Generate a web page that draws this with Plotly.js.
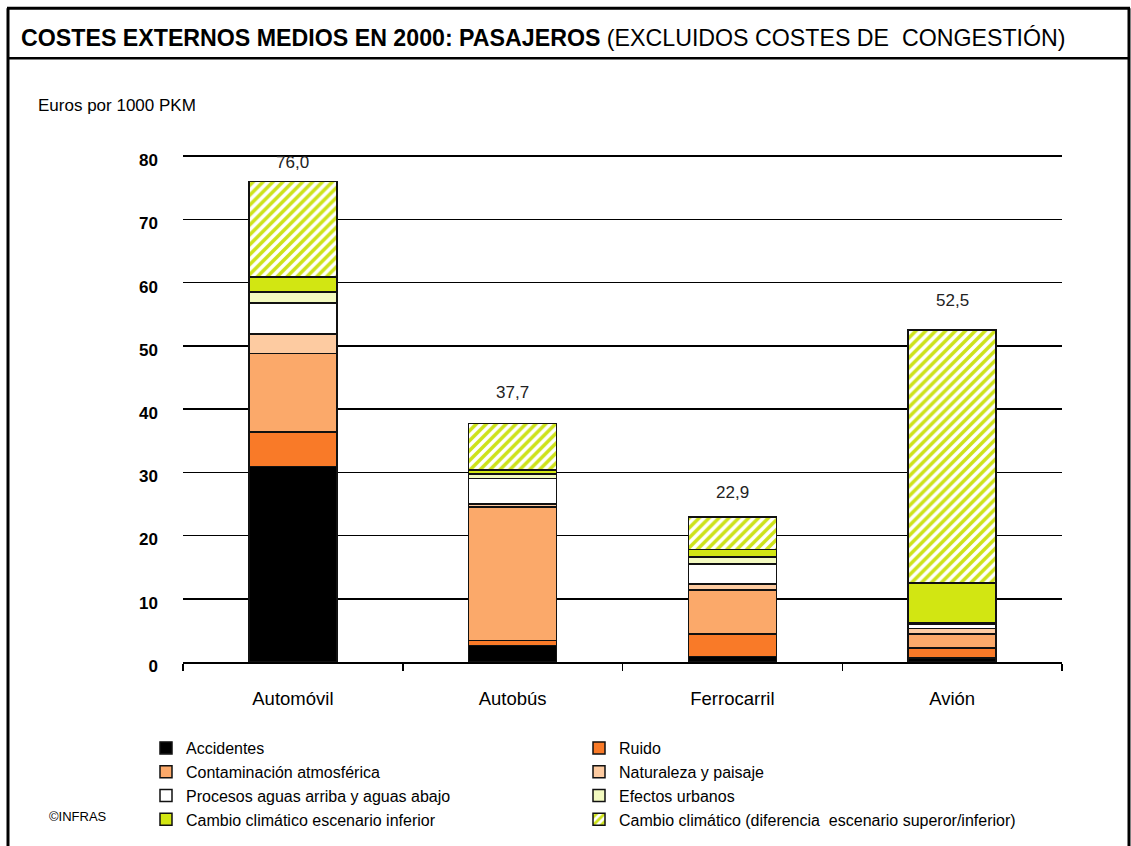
<!DOCTYPE html>
<html>
<head>
<meta charset="utf-8">
<script src="https://cdn.plot.ly/plotly-3.0.1.min.js"></script>
<style>html,body{margin:0;padding:0;background:#fff;overflow:hidden;}#chart{width:1131px;height:846px;}</style>
</head>
<body>
<div id="chart"></div>
<script>
// ---- data ----
const categories = ["Automóvil", "Autobús", "Ferrocarril", "Avión"];
const accidentes = [30.9, 2.6, 0.9, 0.6];
const ruido = [5.5, 0.8, 3.5, 1.6];
const contaminacion = [12.4, 21.1, 7.0, 2.2];
const naturaleza = [3.1, 0.5, 0.9, 0.9];
const procesos = [4.9, 4.0, 3.2, 0.7];
const efectosUrbanos = [1.7, 0.7, 1.1, 0.2];
const cambioInferior = [2.4, 0.7, 1.2, 6.3];
const cambioDiferencia = [15.1, 7.3, 5.1, 40.0];
const totals = [76.0, 37.7, 22.9, 52.5];
const yTicks = [0, 10, 20, 30, 40, 50, 60, 70, 80];

const seriesNames = [
  "Accidentes", "Ruido", "Contaminación atmosférica", "Naturaleza y paisaje",
  "Procesos aguas arriba y aguas abajo", "Efectos urbanos",
  "Cambio climático escenario inferior",
  "Cambio climático (diferencia  escenario superor/inferior)"
];
const seriesValues = [accidentes, ruido, contaminacion, naturaleza, procesos, efectosUrbanos, cambioInferior, cambioDiferencia];
const seriesColors = ["#000000", "#f97a28", "#fba96a", "#fdcba1", "#ffffff", "#f3fac0", "#d2e612", "#ffffff"];

const FONT = "'Liberation Sans', Arial, sans-serif";

// plot area geometry (pixels); y range top slightly above 80 so the 80 gridline is drawn
const YMAX = 80.5;
const L = 183, R = 1062, B = 662, W = 1131, H = 846;
const T = B - (B - 156) * YMAX / 80;
const px = x => (x - L) / (R - L);
const py = y => (B - y) / (B - T);

const traces = seriesNames.map((name, i) => {
  const t = {
    type: "bar", name: name, x: categories, y: seriesValues[i],
    width: 0.4,
    legend: (i % 2 === 0) ? "legend" : "legend2",
    marker: { color: seriesColors[i], line: { color: "#111", width: 1.5 } },
    hoverinfo: "y+name"
  };
  if (i === 7) {
    t.marker.pattern = { shape: "/", fgcolor: "#cde21a", bgcolor: "#ffffff", size: 7, solidity: 0.5 };
  }
  return t;
});

const labelShift = [19, 31, 25, 30];
const totalLabels = categories.map((c, i) => ({
  text: totals[i].toFixed(1).replace(".", ","), x: c, y: totals[i],
  xref: "x", yref: "y", yshift: labelShift[i], yanchor: "middle", showarrow: false,
  font: { family: FONT, size: 17, color: "#222" }
}));

const legendCommon = {
  orientation: "v", traceorder: "normal", xanchor: "left", yanchor: "top",
  font: { family: FONT, size: 16, color: "#000" },
  itemwidth: 30, tracegroupgap: 0, bgcolor: "rgba(0,0,0,0)"
};

const layout = {
  width: W, height: H,
  margin: { l: L, r: W - R, t: T, b: H - B, pad: 0, autoexpand: false },
  paper_bgcolor: "#fff", plot_bgcolor: "#fff",
  barmode: "stack",
  separators: ",.",
  font: { family: FONT, color: "#000" },
  title: {
    text: "<b>COSTES EXTERNOS MEDIOS EN 2000: PASAJEROS</b> (EXCLUIDOS COSTES DE  CONGESTIÓN)",
    font: { family: FONT, size: 23.2, color: "#000" },
    xref: "container", yref: "container", x: 21 / W, xanchor: "left",
    y: 1 - 38 / H, yanchor: "middle"
  },
  xaxis: {
    type: "category", showgrid: false, showline: true, linecolor: "#000", linewidth: 1.5,
    ticks: "outside", tickson: "boundaries", ticklen: 7, tickcolor: "#000", tickwidth: 1.5,
    tickfont: { family: FONT, size: 18.5, color: "#000" }, ticklabelstandoff: 19,
    range: [-0.5, 3.5], fixedrange: true
  },
  yaxis: {
    range: [0, YMAX], tickvals: yTicks, showgrid: true, gridcolor: "#000", gridwidth: 1.5,
    zeroline: false, showline: false, ticks: "",
    tickfont: { family: FONT, size: 17, color: "#000", weight: "bold" },
    ticklabelstandoff: 24, ticklabelshift: 4, fixedrange: true
  },
  showlegend: true,
  legend: Object.assign({}, legendCommon, { x: px(146), y: py(731) }),
  legend2: Object.assign({}, legendCommon, { x: px(579), y: py(731) }),
  shapes: [
    { type: "line", xref: "paper", yref: "paper", x0: px(8), x1: px(8), y0: py(846), y1: py(8),
      line: { color: "#000", width: 3 } },
    { type: "line", xref: "paper", yref: "paper", x0: px(1129), x1: px(1129), y0: py(846), y1: py(8),
      line: { color: "#000", width: 3 } },
    { type: "line", xref: "paper", yref: "paper", x0: px(7), x1: px(1130), y0: py(8), y1: py(8),
      line: { color: "#000", width: 3 } },
    { type: "line", xref: "paper", yref: "paper", x0: px(8), x1: px(1129), y0: py(58), y1: py(58),
      line: { color: "#000", width: 2.5 } }
  ],
  annotations: totalLabels.concat([
    { text: "Euros por 1000 PKM", xref: "paper", yref: "paper", x: px(36), y: py(105),
      xanchor: "left", yanchor: "middle", showarrow: false,
      font: { family: FONT, size: 17, color: "#000" } },
    { text: "©INFRAS", xref: "paper", yref: "paper", x: px(47), y: py(817),
      xanchor: "left", yanchor: "middle", showarrow: false,
      font: { family: FONT, size: 13, color: "#000" } }
  ])
};

Plotly.newPlot("chart", traces, layout, { displayModeBar: false, staticPlot: true });
</script>
</body>
</html>
